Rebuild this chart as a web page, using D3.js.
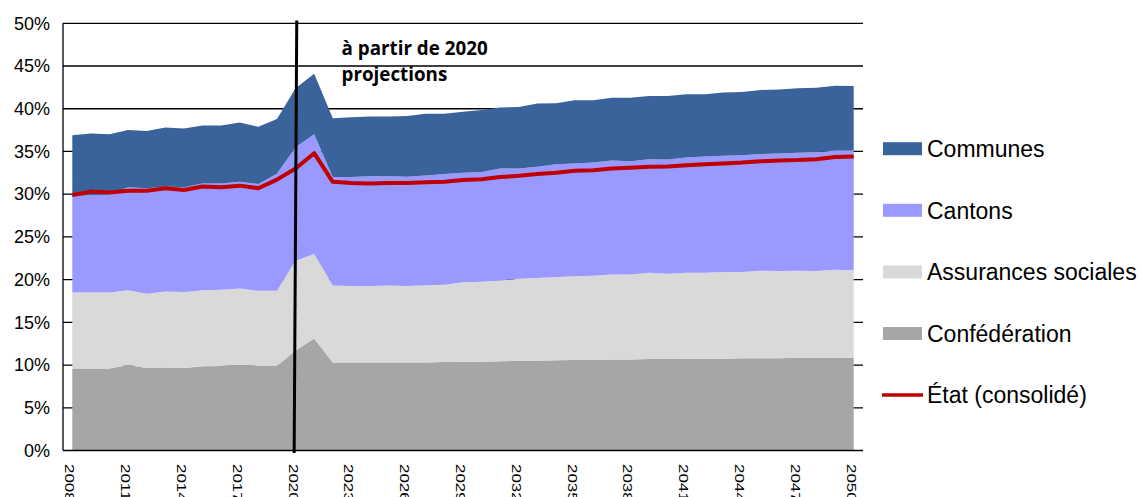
<!DOCTYPE html>
<html><head><meta charset="utf-8">
<script src="https://cdn.jsdelivr.net/npm/d3@7"></script>
<style>html,body{margin:0;padding:0;background:#fff;}svg{display:block;}</style>
</head><body>
<svg id="chart" width="1142" height="497"></svg>
<script>
const years = d3.range(2008, 2051);
const tickYears = d3.range(2008, 2051, 3);
const yTicks = [0,5,10,15,20,25,30,35,40,45,50];
const seriesNames = ["Confédération","Assurances sociales","Cantons","Communes"];
const confederation = [9.6,9.6,9.6,10.0,9.65,9.7,9.65,9.85,9.9,10.0,9.9,9.9,11.7,13.1,10.3,10.3,10.3,10.3,10.3,10.3,10.35,10.4,10.4,10.45,10.5,10.5,10.55,10.6,10.6,10.65,10.65,10.7,10.7,10.75,10.75,10.75,10.8,10.8,10.8,10.85,10.85,10.85,10.85];
const assurances = [8.9,8.9,8.9,8.75,8.7,8.9,8.9,8.9,8.9,8.95,8.8,8.8,10.5,9.9,9.0,8.95,8.95,9.0,8.95,9.05,9.05,9.3,9.35,9.45,9.6,9.7,9.75,9.8,9.85,9.95,9.95,10.1,10.0,10.05,10.05,10.15,10.1,10.25,10.2,10.2,10.15,10.3,10.25];
const cantons = [11.2,11.4,11.5,12.05,12.35,12.3,12.25,12.5,12.45,12.5,12.5,13.7,13.3,14.0,12.7,12.75,12.85,12.8,12.8,12.85,12.95,12.8,12.85,13.1,12.9,13.0,13.2,13.2,13.25,13.35,13.25,13.3,13.35,13.5,13.6,13.6,13.65,13.65,13.75,13.8,13.9,13.95,14.0];
const communes = [7.2,7.2,7.0,6.7,6.7,6.9,6.9,6.8,6.8,6.95,6.7,6.4,6.9,7.1,6.9,7.0,7.0,7.0,7.1,7.2,7.05,7.15,7.25,7.15,7.2,7.4,7.15,7.4,7.3,7.35,7.45,7.4,7.45,7.4,7.3,7.4,7.4,7.5,7.5,7.55,7.55,7.6,7.55];
const etat = [29.9,30.3,30.2,30.4,30.4,30.7,30.5,30.9,30.8,31.0,30.7,31.7,33.0,34.8,31.45,31.3,31.25,31.3,31.3,31.4,31.45,31.65,31.75,32.0,32.15,32.35,32.5,32.75,32.8,33.0,33.1,33.2,33.25,33.4,33.5,33.6,33.7,33.85,33.95,34.0,34.1,34.35,34.4];
const legendLabels = ["Communes","Cantons","Assurances sociales","Confédération","État (consolidé)"];
const annotation = ["à partir de 2020","projections"];
const projectionStart = 2020;

const colors = {"Confédération":"#a6a6a6","Assurances sociales":"#d9d9d9","Cantons":"#9999ff","Communes":"#3b639b"};
const red = "#c00000";

const svg = d3.select("#chart");
const L = 63, R = 863, T = 23.3, B = 450.5;
const x = d3.scalePoint().domain(years).range([L, R]).padding(0.5);
const y = d3.scaleLinear().domain([0, 50]).range([B, T]);

const rows = years.map((yr, i) => ({year: yr, "Confédération": confederation[i], "Assurances sociales": assurances[i], "Cantons": cantons[i], "Communes": communes[i]}));
const stacked = d3.stack().keys(seriesNames)(rows);

// gridlines
svg.append("g").selectAll("line").data(yTicks.filter(d => d > 0)).join("line")
  .attr("x1", L).attr("x2", R).attr("y1", d => y(d)).attr("y2", d => y(d))
  .attr("stroke", "#000").attr("stroke-width", 1.3);

// areas
const area = d3.area().x(d => x(d.data.year)).y0(d => y(d[0])).y1(d => y(d[1]));
svg.append("g").selectAll("path").data(stacked).join("path")
  .attr("d", area).attr("fill", d => colors[d.key]);

// red line
const line = d3.line().x((d, i) => x(years[i])).y(d => y(d));
svg.append("path").datum(etat).attr("d", line).attr("fill", "none")
  .attr("stroke", red).attr("stroke-width", 4).attr("stroke-linejoin", "round");

// axes
const yAxis = d3.axisLeft(y).tickValues(yTicks).tickSize(0).tickPadding(13).tickFormat(d => d + "%");
const gy = svg.append("g").attr("transform", `translate(${L},0)`).call(yAxis);
gy.select(".domain").remove();
gy.selectAll("text").attr("font-family", "Liberation Sans, Arial, sans-serif").attr("font-size", 18).attr("fill", "#000");

svg.append("line").attr("x1", L).attr("x2", L).attr("y1", T).attr("y2", B).attr("stroke", "#000").attr("stroke-width", 1.3);
svg.append("line").attr("x1", L).attr("x2", R).attr("y1", B).attr("y2", B).attr("stroke", "#000").attr("stroke-width", 1.3);

const xAxis = d3.axisBottom(x).tickValues(tickYears).tickSize(0).tickFormat(d => String(d));
const gx = svg.append("g").attr("transform", `translate(0,${B})`).call(xAxis);
gx.select(".domain").remove();
gx.selectAll("text")
  .attr("font-family", "Liberation Sans, Arial, sans-serif").attr("font-size", 13).attr("fill", "#000")
  .attr("text-anchor", "start").attr("dy", null).attr("y", 0).attr("x", 0)
  .attr("transform", "translate(-7.5,13.5) rotate(90) scale(1.3,1)");

// projection marker
const px = x(projectionStart);
svg.append("line").attr("x1", px + 1.2).attr("x2", px - 1.4).attr("y1", 20.5).attr("y2", B + 2.5)
  .attr("stroke", "#000").attr("stroke-width", 3);

svg.append("g").selectAll("text").data(annotation).join("text")
  .attr("x", px + 46).attr("y", (d, i) => 55 + i * 25.5)
  .attr("font-family", "Open Sans, sans-serif").attr("font-weight", "bold").attr("font-size", 18.8)
  .attr("fill", "#000").text(d => d);

// legend
const lg = svg.append("g").attr("font-family", "Liberation Sans, Arial, sans-serif").attr("font-size", 23);
legendLabels.forEach((name, i) => {
  const cy = 148.7 + i * 61.6;
  if (colors[name]) {
    lg.append("rect").attr("x", 883).attr("y", cy - 6.5).attr("width", 39).attr("height", 13).attr("fill", colors[name]);
  } else {
    lg.append("line").attr("x1", 882).attr("x2", 923).attr("y1", cy).attr("y2", cy).attr("stroke", red).attr("stroke-width", 3.5);
  }
  lg.append("text").attr("x", 927).attr("y", cy).attr("dy", "0.36em").attr("fill", "#000").text(name);
});
</script>
</body></html>
